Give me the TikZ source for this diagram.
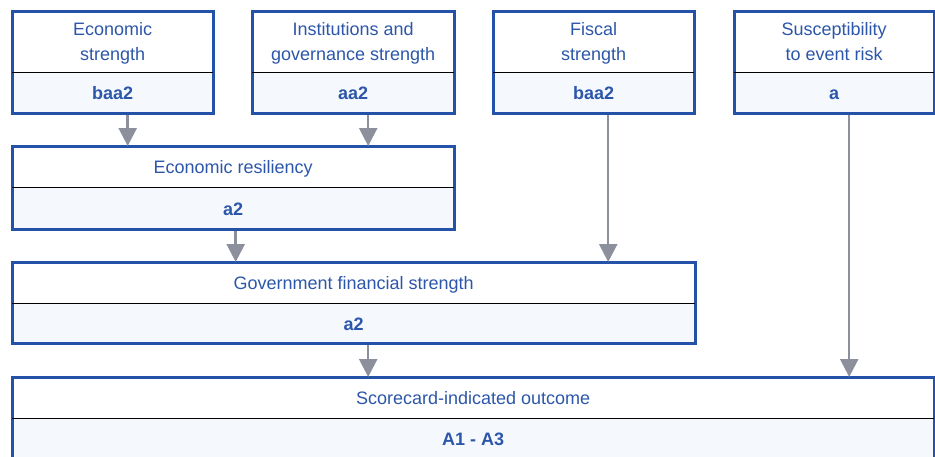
\documentclass[tikz,border=0pt]{standalone}
\usepackage{fontspec}
\setmainfont{Liberation Sans}
\usetikzlibrary{arrows.meta}
\definecolor{boxblue}{HTML}{2352A8}
\definecolor{txtblue}{HTML}{2C56A9}
\definecolor{valfill}{HTML}{F5F9FD}
\definecolor{feedgrey}{HTML}{8C909C}
\tikzset{
	head/.style={inner sep=0pt, align=center, text=txtblue, anchor=north west,
		text depth=0pt, font=\fontsize{18}{25}\selectfont},
	rate/.style={inner sep=0pt, minimum height=41pt, align=center, text=txtblue,
		text height=13pt, text depth=0pt,
		fill=valfill, anchor=north west, font=\fontsize{18}{25}\selectfont\bfseries},
	frame/.style={draw=boxblue, line width=3pt},
	rule/.style={draw=black, line width=1.2pt},
	feed/.style={draw=feedgrey, line width=2.5pt, shorten <=1.5pt,
		-{Triangle[length=18pt,width=18pt]}}
}
\begin{document}
\begin{tikzpicture}[x=1pt,y=-1pt]
	\useasboundingbox (0,0) rectangle (935,456);
	% top row of factors
	\node[head, minimum width=201pt, minimum height=61pt] (ecoT) at (12,11) {Economic\\strength};
	\node[rate, minimum width=201pt] (ecoV) at (ecoT.south west) {baa2};
	\node[head, minimum width=202pt, minimum height=61pt] (instT) at (252,11) {Institutions and\\governance strength};
	\node[rate, minimum width=202pt] (instV) at (instT.south west) {aa2};
	\node[head, minimum width=201pt, minimum height=61pt] (fiscT) at (493,11) {Fiscal\\strength};
	\node[rate, minimum width=201pt] (fiscV) at (fiscT.south west) {baa2};
	\node[head, minimum width=200pt, minimum height=61pt] (suscT) at (734,11) {Susceptibility\\to event risk};
	\node[rate, minimum width=200pt] (suscV) at (suscT.south west) {a};
	% combined levels
	\node[head, minimum width=442pt, minimum height=41pt] (resT) at (12,146) {Economic resiliency};
	\node[rate, minimum width=442pt, minimum height=42pt] (resV) at (resT.south west) {a2};
	\node[head, minimum width=683pt, minimum height=41pt] (govT) at (12,262) {Government financial strength};
	\node[rate, minimum width=683pt, minimum height=40pt] (govV) at (govT.south west) {a2};
	\node[head, minimum width=922pt, minimum height=41pt] (scoreT) at (12,377) {Scorecard-indicated outcome};
	\node[rate, minimum width=922pt] (scoreV) at (scoreT.south west) {A1 - A3};
	% frames
	\draw[frame] (ecoT.north west) rectangle (ecoV.south east);
	\draw[frame] (instT.north west) rectangle (instV.south east);
	\draw[frame] (fiscT.north west) rectangle (fiscV.south east);
	\draw[frame] (suscT.north west) rectangle (suscV.south east);
	\draw[frame] (resT.north west) rectangle (resV.south east);
	\draw[frame] (govT.north west) rectangle (govV.south east);
	\draw[frame] (scoreT.north west) rectangle (scoreV.south east);
	\draw[rule] (ecoT.south west) -- (ecoT.south east);
	\draw[rule] (instT.south west) -- (instT.south east);
	\draw[rule] (fiscT.south west) -- (fiscT.south east);
	\draw[rule] (suscT.south west) -- (suscT.south east);
	\draw[rule] (resT.south west) -- (resT.south east);
	\draw[rule] (govT.south west) -- (govT.south east);
	\draw[rule] (scoreT.south west) -- (scoreT.south east);
	% arrows
	\draw[feed] ([xshift=15pt]ecoV.south) -- ([xshift=15pt]ecoV.south |- resT.north);
	\draw[feed] ([xshift=15pt]instV.south) -- ([xshift=15pt]instV.south |- resT.north);
	\draw[feed] ([xshift=2.5pt]resV.south) -- ([xshift=2.5pt]resV.south |- govT.north);
	\draw[feed] ([xshift=14.5pt]fiscV.south) -- ([xshift=14.5pt]fiscV.south |- govT.north);
	\draw[feed] ([xshift=14.5pt]govV.south) -- ([xshift=14.5pt]govV.south |- scoreT.north);
	\draw[feed] ([xshift=15pt]suscV.south) -- ([xshift=15pt]suscV.south |- scoreT.north);
\end{tikzpicture}
\end{document}
